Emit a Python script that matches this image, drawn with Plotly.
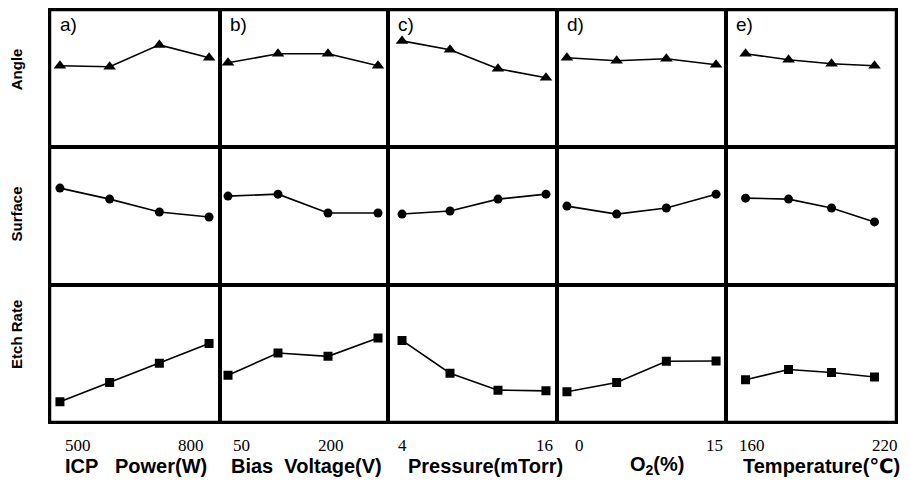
import plotly.graph_objects as go
from plotly.subplots import make_subplots

# ---- data ----
factor_labels = ["ICP\u00a0\u00a0\u00a0Power(W)", "Bias\u00a0\u00a0Voltage(V)", "Pressure(mTorr)",
                 "O<sub>2</sub>(%)", "Temperature(\u2103)"]
panel_letters = ["a)", "b)", "c)", "d)", "e)"]
row_labels = ["Angle", "Surface", "Etch Rate"]

icp_levels = [500, 600, 700, 800]
bias_levels = [50, 100, 150, 200]
pressure_levels = [4, 8, 12, 16]
o2_levels = [0, 5, 10, 15]
temp_levels = [160, 180, 200, 220]

tick_first = ["500", "50", "4", "0", "160"]
tick_last = ["800", "200", "16", "15", "220"]

# relative response (0-100 within each panel)
angle_icp = [59.4, 58.7, 74.6, 65.2]
angle_bias = [61.6, 68.1, 68.1, 59.4]
angle_pressure = [77.5, 71.0, 57.2, 50.7]
angle_o2 = [65.2, 63.0, 64.5, 60.1]
angle_temp = [68.1, 63.8, 60.9, 59.4]

surface_icp = [70.3, 62.3, 52.9, 49.3]
surface_bias = [64.5, 65.9, 52.2, 52.2]
surface_pressure = [51.4, 53.6, 62.3, 65.9]
surface_o2 = [57.2, 51.4, 55.8, 65.9]
surface_temp = [63.0, 62.3, 55.8, 45.7]

etch_icp = [14.7, 28.8, 42.8, 57.2]
etch_bias = [34.1, 50.2, 47.8, 61.1]
etch_pressure = [59.4, 35.5, 23.2, 22.7]
etch_o2 = [22.0, 28.8, 44.2, 44.4]
etch_temp = [30.7, 38.2, 36.0, 32.8]

levels = [icp_levels, bias_levels, pressure_levels, o2_levels, temp_levels]
rows_data = [
    [angle_icp, angle_bias, angle_pressure, angle_o2, angle_temp],
    [surface_icp, surface_bias, surface_pressure, surface_o2, surface_temp],
    [etch_icp, etch_bias, etch_pressure, etch_o2, etch_temp],
]

# ---- layout / style ----
W, H = 910, 489
ML, MR, MT, MB = 50, 14, 8, 67
PW, PH = W - ML - MR, H - MT - MB
col_px = [50, 220, 388, 557, 726, 896]
col_widths = [col_px[i + 1] - col_px[i] for i in range(5)]
x_ranges = [[480, 822], [42, 210], [2.83, 16.92], [-1.0, 16.0], [150.9, 230]]
symbols = ["triangle-up", "circle", "square"]
msizes = [11, 9, 9]

fig = make_subplots(rows=3, cols=5, column_widths=col_widths,
                    horizontal_spacing=0, vertical_spacing=0)

for r in range(3):
    for c in range(5):
        fig.add_trace(go.Scatter(
            x=levels[c], y=rows_data[r][c], mode="lines+markers",
            line=dict(color="black", width=1.6),
            marker=dict(symbol=symbols[r], size=msizes[r], color="black"),
            showlegend=False, hoverinfo="x+y"),
            row=r + 1, col=c + 1)
        fig.update_xaxes(range=x_ranges[c], row=r + 1, col=c + 1)
        fig.update_yaxes(range=[0, 100], row=r + 1, col=c + 1)

fig.update_xaxes(showline=True, mirror=True, linecolor="black", linewidth=2,
                 showgrid=False, zeroline=False, showticklabels=False, ticks="")
fig.update_yaxes(showline=True, mirror=True, linecolor="black", linewidth=2,
                 showgrid=False, zeroline=False, showticklabels=False, ticks="")


def px_x(p):
    return (p - ML) / PW


def px_y(p):
    return (MT + PH - p) / PH


ann = []
# panel letters
for c in range(5):
    ann.append(dict(text=panel_letters[c], xref="paper", yref="paper",
                    x=px_x(col_px[c] + 8), y=px_y(23), xanchor="left", yanchor="middle",
                    showarrow=False, font=dict(family="Liberation Sans, Arial", size=19, color="black")))
# row labels
row_label_y = [68, 213, 334]
for r in range(3):
    ann.append(dict(text="<b>%s</b>" % row_labels[r], xref="paper", yref="paper",
                    x=px_x(16.5), y=px_y(row_label_y[r]), textangle=-90,
                    xanchor="center", yanchor="middle", showarrow=False,
                    font=dict(family="Liberation Sans Narrow, Arial Narrow, Liberation Sans",
                              size=15, color="black")))
# tick labels
first_px = [78, 241, 402, 579, 752]
last_px = [191, 331, 544, 714, 885]
for c in range(5):
    for txt, p in ((tick_first[c], first_px[c]), (tick_last[c], last_px[c])):
        ann.append(dict(text=txt, xref="paper", yref="paper", x=px_x(p), y=px_y(446),
                        xanchor="center", yanchor="middle", showarrow=False,
                        font=dict(family="Liberation Serif, Times New Roman", size=17, color="black")))
# factor labels
factor_px = [136, 306, 485, 657, 821]
for c in range(5):
    ann.append(dict(text="<b>%s</b>" % factor_labels[c], xref="paper", yref="paper",
                    x=px_x(factor_px[c]), y=px_y(466), xanchor="center", yanchor="middle",
                    showarrow=False,
                    font=dict(family="Liberation Sans, Arial, DejaVu Sans", size=20, color="black")))

# slightly heavier outer frame
fig.add_shape(type="rect", xref="paper", yref="paper", x0=0, x1=1, y0=0, y1=1,
              line=dict(color="black", width=2.5), fillcolor="rgba(0,0,0,0)", layer="above")

fig.update_layout(width=W, height=H, margin=dict(l=ML, r=MR, t=MT, b=MB),
                  paper_bgcolor="white", plot_bgcolor="white", annotations=ann)

fig.write_html("out.html")
